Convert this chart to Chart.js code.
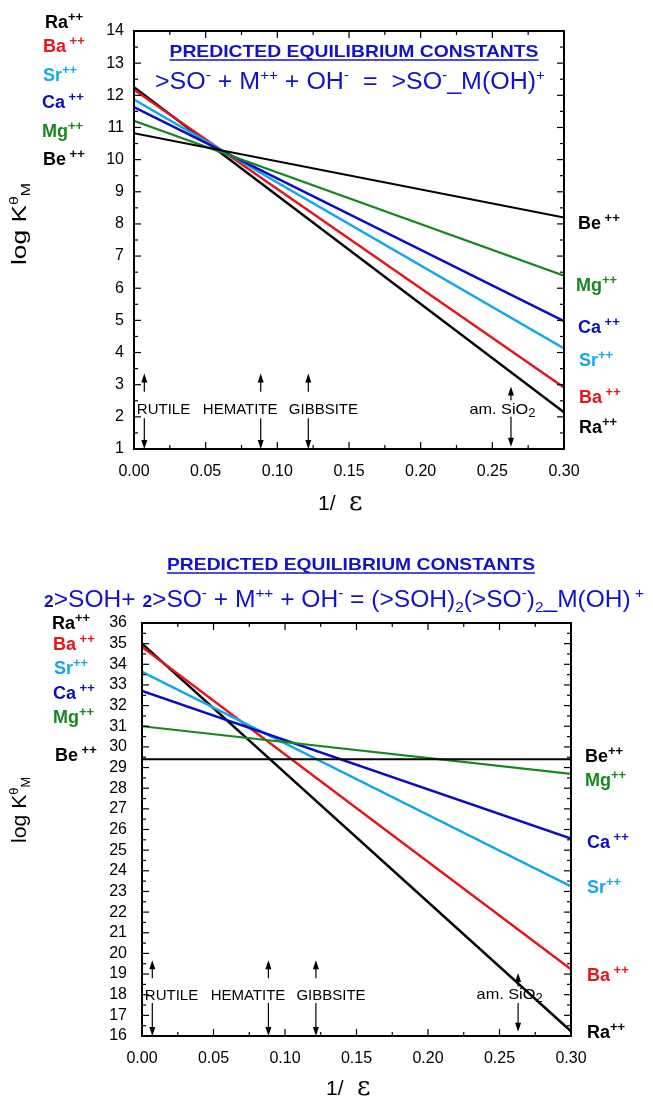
<!DOCTYPE html>
<html>
<head>
<meta charset="utf-8">
<script src="https://cdn.jsdelivr.net/npm/chart.js@4.4.0/dist/chart.umd.min.js"></script>
<style>
  body { margin: 0; background: #fff; }
  canvas { position: absolute; left: 0; }
  #top { top: 0; }
  #bot { top: 540px; }
</style>
</head>
<body>
<canvas id="top" width="653" height="540" style="width:653px;height:540px"></canvas>
<canvas id="bot" width="653" height="560" style="width:653px;height:560px"></canvas>
<script>
// ---- data ----
const xEnds = [0, 0.30];

// >SO- + M++ + OH- = >SO-_M(OH)+
const topRa = [12.25, 2.14];
const topBa = [12.17, 2.91];
const topSr = [11.87, 4.13];
const topCa = [11.63, 4.98];
const topMg = [11.21, 6.39];
const topBe = [10.82, 8.20];

// 2>SOH + 2>SO- + M++ + OH- = (>SOH)2(>SO-)2_M(OH)+
const botRa = [35.0, 16.23];
const botBa = [34.84, 19.23];
const botSr = [33.63, 23.25];
const botCa = [32.71, 25.56];
const botMg = [31.0, 28.69];
const botBe = [29.4, 29.4];

const minerals = ["RUTILE", "HEMATITE", "GIBBSITE"];
const mineralX = [0.0072, 0.0884, 0.1216];   // arrow positions
const mineralTextX = [0.002, 0.048, 0.108];  // text left edge
const silicaX = 0.263;
const silicaTextX = 0.234;

const FAM = '"Liberation Sans", Arial, Helvetica, sans-serif';
const C = { Ra: "#000000", Ba: "#e8141c", Sr: "#14a8e8", Ca: "#0c0cc4", Mg: "#17881f", Be: "#000000" };
const BLUE = "#1212cc";

function series(ys, color, w) {
  return {
    data: xEnds.map((x, i) => ({ x: x, y: ys[i] })),
    borderColor: color, borderWidth: w, pointRadius: 0,
    showLine: true, fill: false, tension: 0
  };
}

// rich text: parts = [[text, kind]], kind n | b | sup | sub | bsup | bs | sub2
function rich(ctx, parts, x, y, base, color, align, width) {
  const fontOf = k => {
    if (k === "b") return "bold " + base + "px " + FAM;
    if (k === "bsup") return "bold " + Math.round(base * 0.7) + "px " + FAM;
    if (k === "sup" || k === "sub") return Math.round(base * 0.62) + "px " + FAM;
    if (k === "sub2") return Math.round(base * 0.8) + "px " + FAM;
    if (k === "bs") return "bold " + Math.round(base * 0.7) + "px " + FAM;
    if (k === "eps") return Math.round(base * 1.25) + 'px "DejaVu Serif", serif';
    return base + "px " + FAM;
  };
  let w = 0;
  parts.forEach(p => { ctx.font = fontOf(p[1]); w += ctx.measureText(p[0]).width; });
  const sx = width ? width / w : 1;
  const x0 = align === "center" ? x - w * sx / 2 : x;
  ctx.save();
  ctx.translate(x0, y);
  ctx.scale(sx, 1);
  ctx.fillStyle = color;
  ctx.textBaseline = "alphabetic";
  ctx.textAlign = "left";
  let cx = 0;
  parts.forEach(p => {
    ctx.font = fontOf(p[1]);
    let dy = 0;
    if (p[1] === "sup" || p[1] === "bsup") dy = -base * 0.38;
    if (p[1] === "sub" || p[1] === "sub2") dy = base * 0.22;
    ctx.fillText(p[0], cx, dy);
    cx += ctx.measureText(p[0]).width;
  });
  ctx.restore();
  return { x0: x0, w: w * sx };
}

function ion(sym, spaced) {
  return [[sym, "b"], [spaced ? " ++" : "++", "bsup"]];
}

function arrow(ctx, x, y0, y1) {
  const dir = y1 < y0 ? -1 : 1;
  ctx.beginPath();
  ctx.moveTo(x, y0);
  ctx.lineTo(x, y1 - dir * 8);
  ctx.stroke();
  ctx.beginPath();
  ctx.moveTo(x, y1);
  ctx.lineTo(x - 3, y1 - dir * 9);
  ctx.lineTo(x + 3, y1 - dir * 9);
  ctx.closePath();
  ctx.fill();
}

function frame(chart) {
  const { ctx, chartArea: a, scales: { x, y } } = chart;
  ctx.save();
  ctx.strokeStyle = "#000";
  ctx.lineWidth = 1.2;
  const seg = (x1, y1, x2, y2) => { ctx.beginPath(); ctx.moveTo(x1, y1); ctx.lineTo(x2, y2); ctx.stroke(); };
  for (let i = 0; i <= 12; i++) {
    const px = x.getPixelForValue(i * 0.025);
    const L = i % 2 ? 4 : 7;
    seg(px, a.bottom, px, a.bottom - L);
    seg(px, a.top, px, a.top + L);
  }
  const n = Math.round((y.max - y.min) * 2);
  for (let i = 0; i <= n; i++) {
    const py = y.getPixelForValue(y.min + i * 0.5);
    const L = i % 2 ? 4 : 7;
    seg(a.left, py, a.left + L, py);
    seg(a.right, py, a.right - L, py);
  }
  ctx.lineWidth = 2;
  ctx.strokeRect(a.left, a.top, a.right - a.left, a.bottom - a.top);
  ctx.restore();
}

function deco(cfg) {
  return {
    id: "deco",
    afterDraw(chart) {
      const { ctx, scales: { x, y } } = chart;
      frame(chart);
      ctx.save();
      // minerals
      ctx.strokeStyle = "#000"; ctx.fillStyle = "#000"; ctx.lineWidth = 1.2;
      mineralX.forEach(v => {
        const px = x.getPixelForValue(v);
        arrow(ctx, px, y.getPixelForValue(cfg.up[0]), y.getPixelForValue(cfg.up[1]));
        arrow(ctx, px, y.getPixelForValue(cfg.down[0]), y.getPixelForValue(cfg.down[1]));
      });
      const sx = x.getPixelForValue(silicaX);
      arrow(ctx, sx, y.getPixelForValue(cfg.sUp[0]), y.getPixelForValue(cfg.sUp[1]));
      arrow(ctx, sx, y.getPixelForValue(cfg.sDown[0]), y.getPixelForValue(cfg.sDown[1]));
      const ty = y.getPixelForValue(cfg.textY) + 5;
      minerals.forEach((m, i) => rich(ctx, [[m, "n"]], x.getPixelForValue(mineralTextX[i]), ty, 15, "#000", "left"));
      rich(ctx, [["am. SiO", "n"], ["2", "sub2"]], x.getPixelForValue(silicaTextX), y.getPixelForValue(cfg.sTextY) + 5, 15, "#000", "left", 66);

      // ion labels
      cfg.left.forEach(l => rich(ctx, ion(l[0], l[1]), l[2], l[3] + 6, 18, C[l[0]], "left"));
      cfg.right.forEach(l => rich(ctx, ion(l[0], l[1]), l[2], l[3] + 6, 18, C[l[0]], "left"));

      // titles
      const t = rich(ctx, [["PREDICTED EQUILIBRIUM CONSTANTS", "b"]], cfg.title[0], cfg.title[1], 17, BLUE, "center", cfg.title[2]);
      ctx.strokeStyle = BLUE; ctx.lineWidth = 1.5;
      ctx.beginPath(); ctx.moveTo(t.x0, cfg.title[1] + 3); ctx.lineTo(t.x0 + t.w, cfg.title[1] + 3); ctx.stroke();
      rich(ctx, cfg.eq, cfg.eqPos[0], cfg.eqPos[1], cfg.eqPos[3], BLUE, "center", cfg.eqPos[2]);

      // y title
      ctx.save();
      ctx.translate(cfg.yTitle[0], cfg.yTitle[1]);
      ctx.rotate(-Math.PI / 2);
      rich(ctx, [["log K", "n"], ["θ", "sup"], ["M", "sub"]], 0, 0, 20, "#000", "center", cfg.yTitle[2]);
      ctx.restore();

      // x title
      rich(ctx, [["1/", "n"]], cfg.xTitle[0], cfg.xTitle[1], 21, "#000", "left");
      rich(ctx, [["ε", "eps"]], cfg.xTitle[0] + 31, cfg.xTitle[1], 21, "#000", "left");
      ctx.restore();
    }
  };
}

function makeChart(id, sets, ymin, ymax, pad, yPad, cfg) {
  return new Chart(document.getElementById(id), {
    type: "scatter",
    data: {
      datasets: [
        series(sets[5], C.Be, 2),
        series(sets[4], C.Mg, 2.2),
        series(sets[3], C.Ca, 2.5),
        series(sets[2], C.Sr, 2.5),
        series(sets[1], C.Ba, 2.5),
        series(sets[0], C.Ra, 2.5)
      ]
    },
    options: {
      responsive: false,
      animation: false,
      layout: { padding: pad },
      plugins: { legend: { display: false }, tooltip: { enabled: false } },
      scales: {
        x: {
          type: "linear", min: 0, max: 0.3,
          afterFit: s => { s.height = 30; },
          grid: { display: false, drawTicks: false },
          border: { display: false },
          ticks: {
            stepSize: 0.05, padding: 13, color: "#000", autoSkip: false, maxRotation: 0,
            font: { size: 16, family: FAM },
            callback: v => v.toFixed(2)
          }
        },
        y: {
          min: ymin, max: ymax,
          afterFit: s => { s.width = 40; },
          grid: { display: false, drawTicks: false },
          border: { display: false },
          ticks: {
            stepSize: 1, padding: yPad, color: "#000", autoSkip: false,
            font: { size: 16, family: FAM }
          }
        }
      }
    },
    plugins: [deco(cfg)]
  });
}

makeChart("top", [topRa, topBa, topSr, topCa, topMg, topBe], 1, 14,
  { left: 94, right: 89, top: 31, bottom: 61 }, 10, {
    up: [2.78, 3.35], down: [1.96, 1.0], sUp: [2.52, 2.94], sDown: [2.0, 1.07],
    textY: 2.24, sTextY: 2.24,
    left: [["Ra", false, 45, 22], ["Ba", true, 43, 46], ["Sr", false, 43, 75],
           ["Ca", true, 42, 102], ["Mg", false, 42, 131], ["Be", true, 43, 159]],
    right: [["Be", true, 578, 223], ["Mg", false, 576, 285], ["Ca", true, 578, 327],
            ["Sr", false, 579, 360], ["Ba", true, 579, 397], ["Ra", false, 579, 427]],
    title: [354, 57, 369],
    eq: [[">SO", "n"], ["-", "sup"], [" + M", "n"], ["++", "sup"], [" + OH", "n"], ["-", "sup"],
         ["  =  >SO", "n"], ["-", "sup"], ["_M(OH)", "n"], ["+", "sup"]],
    eqPos: [350, 89, 390, 23],
    yTitle: [26, 224, 82],
    xTitle: [318, 510]
  });

makeChart("bot", [botRa, botBa, botSr, botCa, botMg, botBe], 16, 36,
  { left: 102, right: 82, top: 83, bottom: 34 }, 15, {
    up: [18.8, 19.67], down: [17.6, 16.0], sUp: [18.4, 19.05], sDown: [17.6, 16.2],
    textY: 18.0, sTextY: 18.05,
    left: [["Ra", false, 52, 83], ["Ba", true, 53, 104], ["Sr", false, 54, 128],
           ["Ca", true, 53, 153], ["Mg", false, 53, 177], ["Be", true, 55, 215]],
    right: [["Be", false, 585, 216], ["Mg", false, 585, 240], ["Ca", true, 587, 302],
            ["Sr", false, 587, 347], ["Ba", true, 587, 435], ["Ra", false, 587, 492]],
    title: [351, 30, 368],
    eq: [["2", "bs"], [">SOH+ ", "n"], ["2", "bs"], [">SO", "n"], ["-", "sup"], [" + M", "n"], ["++", "sup"],
         [" + OH", "n"], ["-", "sup"], [" = (>SOH)", "n"], ["2", "sub"], ["(>SO", "n"], ["-", "sup"], [")", "n"],
         ["2", "sub"], ["_M(OH)", "n"], [" +", "sup"]],
    eqPos: [344, 67, 600, 24],
    yTitle: [26, 270, 66],
    xTitle: [326, 555]
  });
</script>
</body>
</html>
